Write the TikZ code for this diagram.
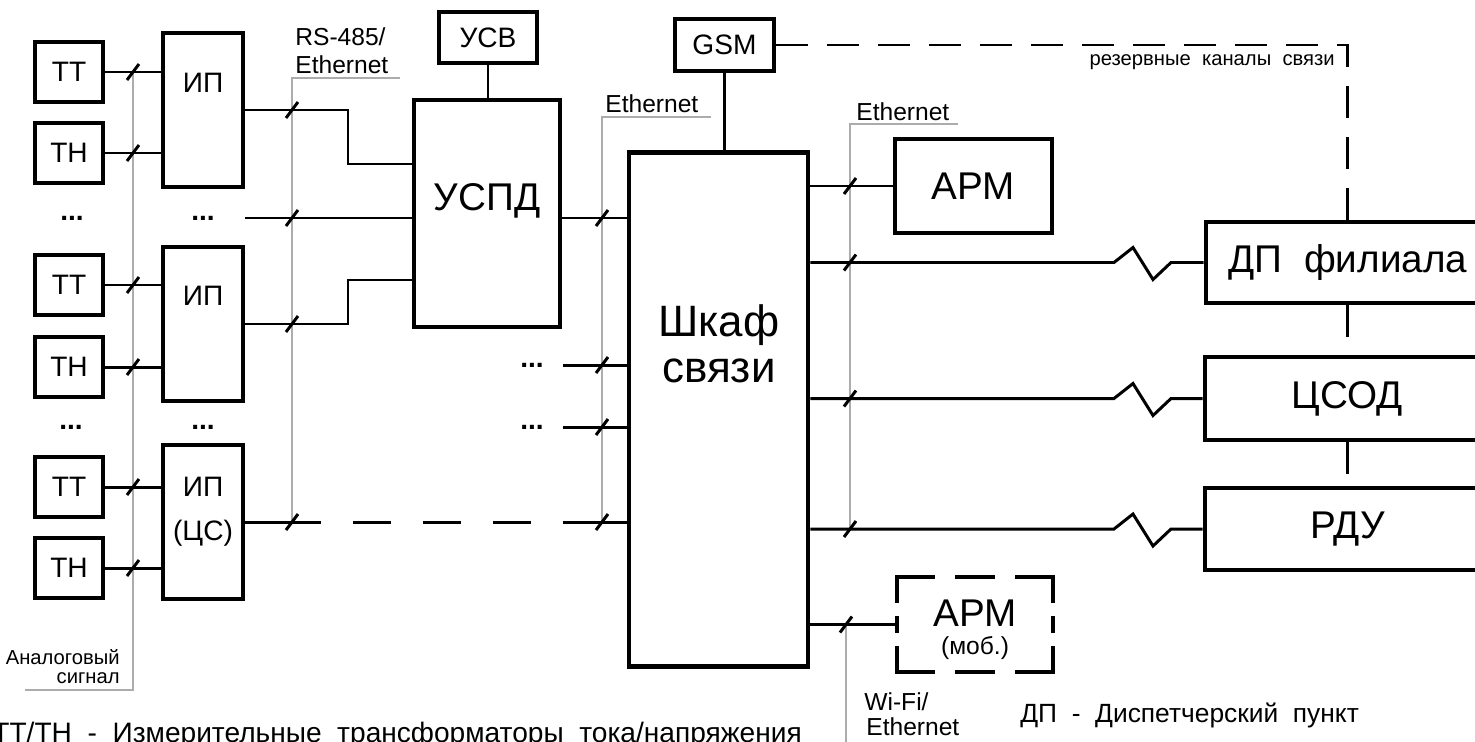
\documentclass[tikz,border=0pt]{standalone}
\usepackage{fontspec}
\setmainfont{Liberation Sans}
\usetikzlibrary{calc}

\begin{document}
\begin{tikzpicture}[x=0.02cm, y=-0.02cm,
    box/.style={draw, line width=2.8pt, inner sep=0pt, align=center},
    conn/.style={line width=1.7pt},
    lead/.style={draw=gray!65, line width=0.8pt},
    rsv/.style={conn, dash pattern=on 0.64cm off 0.38cm},
    hugetxt/.style={inner sep=0pt, font=\fontsize{25}{28}\selectfont},
    bigtxt/.style={inner sep=0pt, font=\fontsize{22}{25}\selectfont},
    midtxt/.style={inner sep=0pt, font=\fontsize{16}{18}\selectfont},
    smalltxt/.style={inner sep=0pt, font=\fontsize{14}{16}\selectfont},
    tinytxt/.style={inner sep=0pt, font=\fontsize{11.5}{13}\selectfont},
    tick/.pic={\draw[line width=1.7pt] (-6,8) -- (6,-8);}]
  \path[use as bounding box, fill=white] (0,0) rectangle (1475,741);
  % helper points
  \coordinate (gA) at (133,690); \coordinate (gAend) at (25,690);
  \coordinate (gB) at (292,78);  \coordinate (gBend) at (400,78);
  \coordinate (gC) at (602,117); \coordinate (gCend) at (711,117);
  \coordinate (gD) at (850,124); \coordinate (gDend) at (958,124);
  \coordinate (gE) at (846,760);
  \coordinate (b1) at (348,164); \coordinate (b2) at (348,280);
  \coordinate (m0) at (245,218);
  \coordinate (s1) at (563,365); \coordinate (s2) at (563,427);
  \coordinate (d1) at (321,0);   \coordinate (d2) at (563,0);
  \coordinate (zz) at (1114,0);  \coordinate (r1) at (1347,0);
  % transformers and meters
  \foreach \n/\t/\y in {tt1/ТТ/72, tn1/ТН/153, tt2/ТТ/285, tn2/ТН/367, tt3/ТТ/487, tn3/ТН/568}
    \node[box, midtxt, minimum width=1.36cm, minimum height=1.2cm] (\n) at (69,\y) {\t};
  \foreach \n/\y in {ip1/110, ip2/324, ip3/522}
    \node[box, minimum width=1.6cm, minimum height=3.08cm] (\n) at (203,\y) {};
  \node[midtxt, anchor=base] (ip1t) at (203,92) {ИП};
  \node[midtxt, anchor=base] (ip2t) at (203,305) {ИП};
  \node[midtxt, anchor=base] (ip3t) at (203,496) {ИП};
  \node[midtxt, anchor=base] (ip3c) at (203,540) {(ЦС)};
  \foreach \n/\x/\y in {dl1/72/220, dm1/203/220, dl2/71/429, dm2/203/429, ds1/532/367, ds2/532/429}
    \node[midtxt, anchor=base] (\n) at (\x,\y) {\textbf{...}};
  % concentrator and cabinet
  \node[box, minimum width=2.92cm, minimum height=4.54cm] (uspd) at (487,213.5) {};
  \node[bigtxt, anchor=base] (uspdt) at (487,210) {УСПД};
  \node[box, midtxt, minimum width=1.96cm, minimum height=1.02cm] (usv) at (488,37.5) {УСВ};
  \node[box, midtxt, minimum width=1.98cm, minimum height=1.04cm] (gsm) at (724.5,45) {GSM};
  \node[box, minimum width=3.58cm, minimum height=10.3cm] (shkaf) at (718.5,409.5) {};
  \node[hugetxt, anchor=base] (shkafa) at (719,336) {Шкаф};
  \node[hugetxt, anchor=base] (shkafb) at (719,382) {связи};
  % receivers
  \node[box, bigtxt, minimum width=3.14cm, minimum height=1.88cm] (arm) at (973.5,186) {АРМ};
  \node[box, bigtxt, minimum width=5.68cm, minimum height=1.62cm] (dp) at (1348,262.5) {ДП\ \ филиала};
  \node[box, bigtxt, minimum width=5.7cm, minimum height=1.66cm] (csod) at (1347.5,398.5) {ЦСОД};
  \node[box, bigtxt, minimum width=5.7cm, minimum height=1.64cm] (rdu) at (1347.5,529) {РДУ};
  \node[minimum width=3.12cm, minimum height=1.9cm, inner sep=0pt] (armm) at (975,624.5) {};
  \draw[line width=2.2pt, line cap=rect, dash pattern=on 0.72cm off 0.48cm]
    (armm.north west) -- (armm.north east) (armm.south west) -- (armm.south east);
  \draw[line width=2.2pt, line cap=rect, dash pattern=on 0.48cm off 0.34cm on 0.26cm off 0.34cm]
    (armm.north west) -- (armm.south west) (armm.north east) -- (armm.south east);
  \node[bigtxt, anchor=base] (armmt) at (975,626) {АРМ};
  \node[smalltxt, anchor=base] (armmm) at (975,654) {(моб.)};
  % leaders
  \draw[lead] (gA |- tt1.east) -- (gA) -- (gAend);
  \draw[lead] (gBend) -- (gB) -- (gB |- ip3.east);
  \draw[lead] (gCend) -- (gC) -- (gC |- ip3.east);
  \draw[lead] (gDend) -- (gD) -- (gD |- rdu.west);
  \draw[lead] (gE |- armm.west) -- (gE);
  % links
  \foreach \n/\p in {tt1/ip1, tn1/ip1, tt2/ip2, tn2/ip2, tt3/ip3, tn3/ip3} {
    \draw[conn] (\n.east) -- (\n.east -| \p.west);
    \pic at (gA |- \n.east) {tick};
  }
  \draw[conn] (ip1.east) -| (b1) -- (b1 -| uspd.west);
  \draw[conn] (ip2.east) -| (b2) -- (b2 -| uspd.west);
  \draw[conn] (m0) -- (m0 -| uspd.west);
  \draw[conn] (ip3.east) -- (ip3.east -| d1);
  \draw[conn, dash pattern=on 0.76cm off 0.64cm, dash phase=0.76cm] (ip3.east -| d1) -- (ip3.east -| d2);
  \draw[conn] (ip3.east -| d2) -- (ip3.east -| shkaf.west);
  \foreach \c in {ip1.east, m0, ip2.east, ip3.east} \pic at (gB |- \c) {tick};
  \draw[conn] (m0 -| uspd.east) -- (m0 -| shkaf.west);
  \draw[conn] (s1) -- (s1 -| shkaf.west);
  \draw[conn] (s2) -- (s2 -| shkaf.west);
  \foreach \c in {m0, s1, s2, ip3.east} \pic at (gC |- \c) {tick};
  \draw[conn] (usv.south) -- (usv.south |- uspd.north);
  \draw[conn] (gsm.south) -- (gsm.south |- shkaf.north);
  \draw[conn] (shkaf.east |- arm.west) -- (arm.west);
  \foreach \t in {dp, csod, rdu}
    \draw[conn] (shkaf.east |- \t.west) -- (zz |- \t.west) -- ++(19,-15) -- ++(20,32) -- ++(18,-17) -- (\t.west);
  \foreach \t in {arm, dp, csod, rdu} \pic at (gD |- \t.west) {tick};
  \draw[conn] (shkaf.east |- armm.west) -- (armm.west);
  \pic at (gE |- armm.west) {tick};
  % reserve channels
  \draw[rsv] (gsm.east) -- (gsm.east -| r1) -- (r1 |- dp.north);
  \draw[rsv] (r1 |- dp.south) -- (r1 |- csod.north);
  \draw[rsv] (r1 |- csod.south) -- (r1 |- rdu.north);
  % texts
  \node[smalltxt, anchor=base west] (rs1) at (295,45) {RS-485/};
  \node[smalltxt, anchor=base west] (rs2) at (295,73) {Ethernet};
  \node[smalltxt, anchor=base west] (eth1) at (605,112) {Ethernet};
  \node[smalltxt, anchor=base west] (eth2) at (856,120) {Ethernet};
  \node[smalltxt, anchor=base west] (wf1) at (864,710) {Wi-Fi/};
  \node[smalltxt, anchor=base west] (wf2) at (866,735) {Ethernet};
  \node[tinytxt, anchor=base east] (an1) at (120,664) {Аналоговый};
  \node[tinytxt, anchor=base east] (an2) at (120,683) {сигнал};
  \node[tinytxt, anchor=base east] (rez) at (1335,65) {резервные\ \ каналы\ \ связи};
  \node[midtxt, anchor=base west] (leg1) at (-8,742) {ТТ/ТН\ \ -\ \ Измерительные\ \ трансформаторы\ \ тока/напряжения};
  \node[midtxt, anchor=base west, font=\fontsize{15}{18}\selectfont] (leg2) at (1020,722) {ДП\ \ -\ \ Диспетчерский\ \ пункт};
\end{tikzpicture}
\end{document}
